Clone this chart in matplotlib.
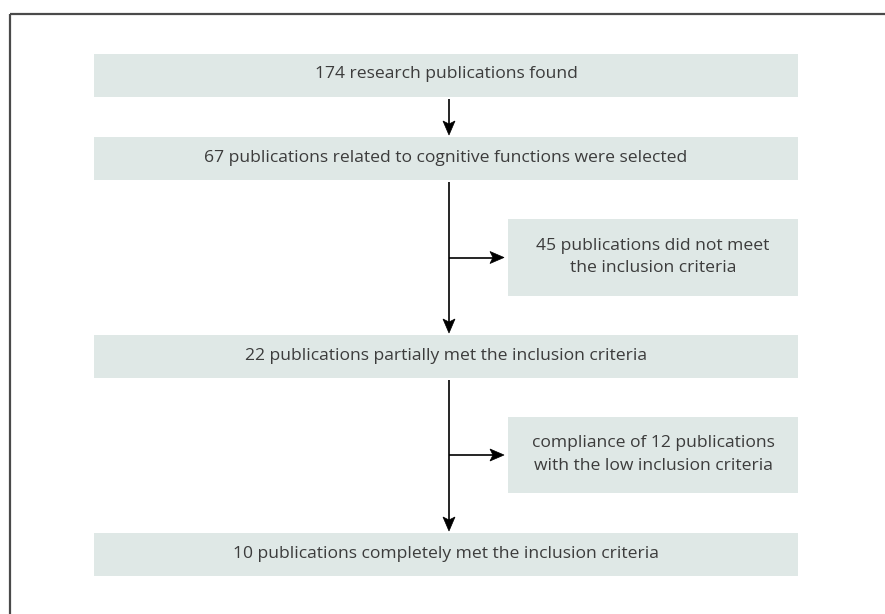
import matplotlib.pyplot as plt
from matplotlib.patches import Rectangle, Polygon

plt.rcParams['font.family'] = ['Open Sans', 'DejaVu Sans']

# flowchart content
main_texts = [
    '174 research publications found',
    '67 publications related to cognitive functions were selected',
    '22 publications partially met the inclusion criteria',
    '10 publications completely met the inclusion criteria',
]
side_texts = [
    '45 publications did not meet\nthe inclusion criteria',
    'compliance of 12 publications\nwith the low inclusion criteria',
]

# layout in pixel coords
main_y = [(54, 97), (137, 180), (335, 378), (533, 576)]
side_y = [(219, 296), (417, 493)]
main_x = (94, 798)
side_x = (508, 798)
line_x = 449
box_col = '#dfe8e6'
txt_col = '#3c3c3c'
fs = 12.6


def stealth(ax, x0, y0, x1, y1, hl=14, hw=6, notch=3):
    """line from (x0,y0) to (x1,y1) with a notched arrow head at the end"""
    dx, dy = x1 - x0, y1 - y0
    n = (dx ** 2 + dy ** 2) ** 0.5
    ux, uy = dx / n, dy / n
    px, py = -uy, ux
    bx, by = x1 - ux * hl, y1 - uy * hl
    ax.plot([x0, bx + ux * notch], [y0, by + uy * notch], color='black', lw=1.2,
            solid_capstyle='butt')
    pts = [(x1, y1), (bx + px * hw, by + py * hw), (bx + ux * notch, by + uy * notch),
           (bx - px * hw, by - py * hw)]
    ax.add_patch(Polygon(pts, closed=True, facecolor='black', edgecolor='black', lw=0.5))


fig = plt.figure(figsize=(8.85, 6.14), dpi=100)
ax = fig.add_axes([0, 0, 1, 1])
ax.set_xlim(0, 885)
ax.set_ylim(614, 0)
ax.axis('off')

# frame: top and left only
ax.plot([9.5, 885], [13.5, 13.5], color='#4a4a4a', lw=1.6, solid_capstyle='butt')
ax.plot([9.5, 9.5], [13.5, 614], color='#4a4a4a', lw=1.6, solid_capstyle='butt')

for (y0, y1), t in zip(main_y, main_texts):
    ax.add_patch(Rectangle((main_x[0], y0), main_x[1] - main_x[0], y1 - y0,
                           facecolor=box_col, edgecolor='none'))
    ax.text((main_x[0] + main_x[1]) / 2, (y0 + y1) / 2 - 1, t, ha='center', va='center',
            fontsize=fs, color=txt_col)

for (y0, y1), t in zip(side_y, side_texts):
    ax.add_patch(Rectangle((side_x[0], y0), side_x[1] - side_x[0], y1 - y0,
                           facecolor=box_col, edgecolor='none'))
    ax.text((side_x[0] + side_x[1]) / 2, (y0 + y1) / 2 - 0.5, t, ha='center', va='center',
            fontsize=fs, color=txt_col, linespacing=1.55)

# vertical arrows between main boxes
for i in range(3):
    stealth(ax, line_x, main_y[i][1] + 2, line_x, main_y[i + 1][0] - 2)

# branches to side boxes
for (y0, y1) in side_y:
    ym = (y0 + y1) / 2
    stealth(ax, line_x, ym, side_x[0] - 4, ym)

fig.savefig('out.png', dpi=100)
